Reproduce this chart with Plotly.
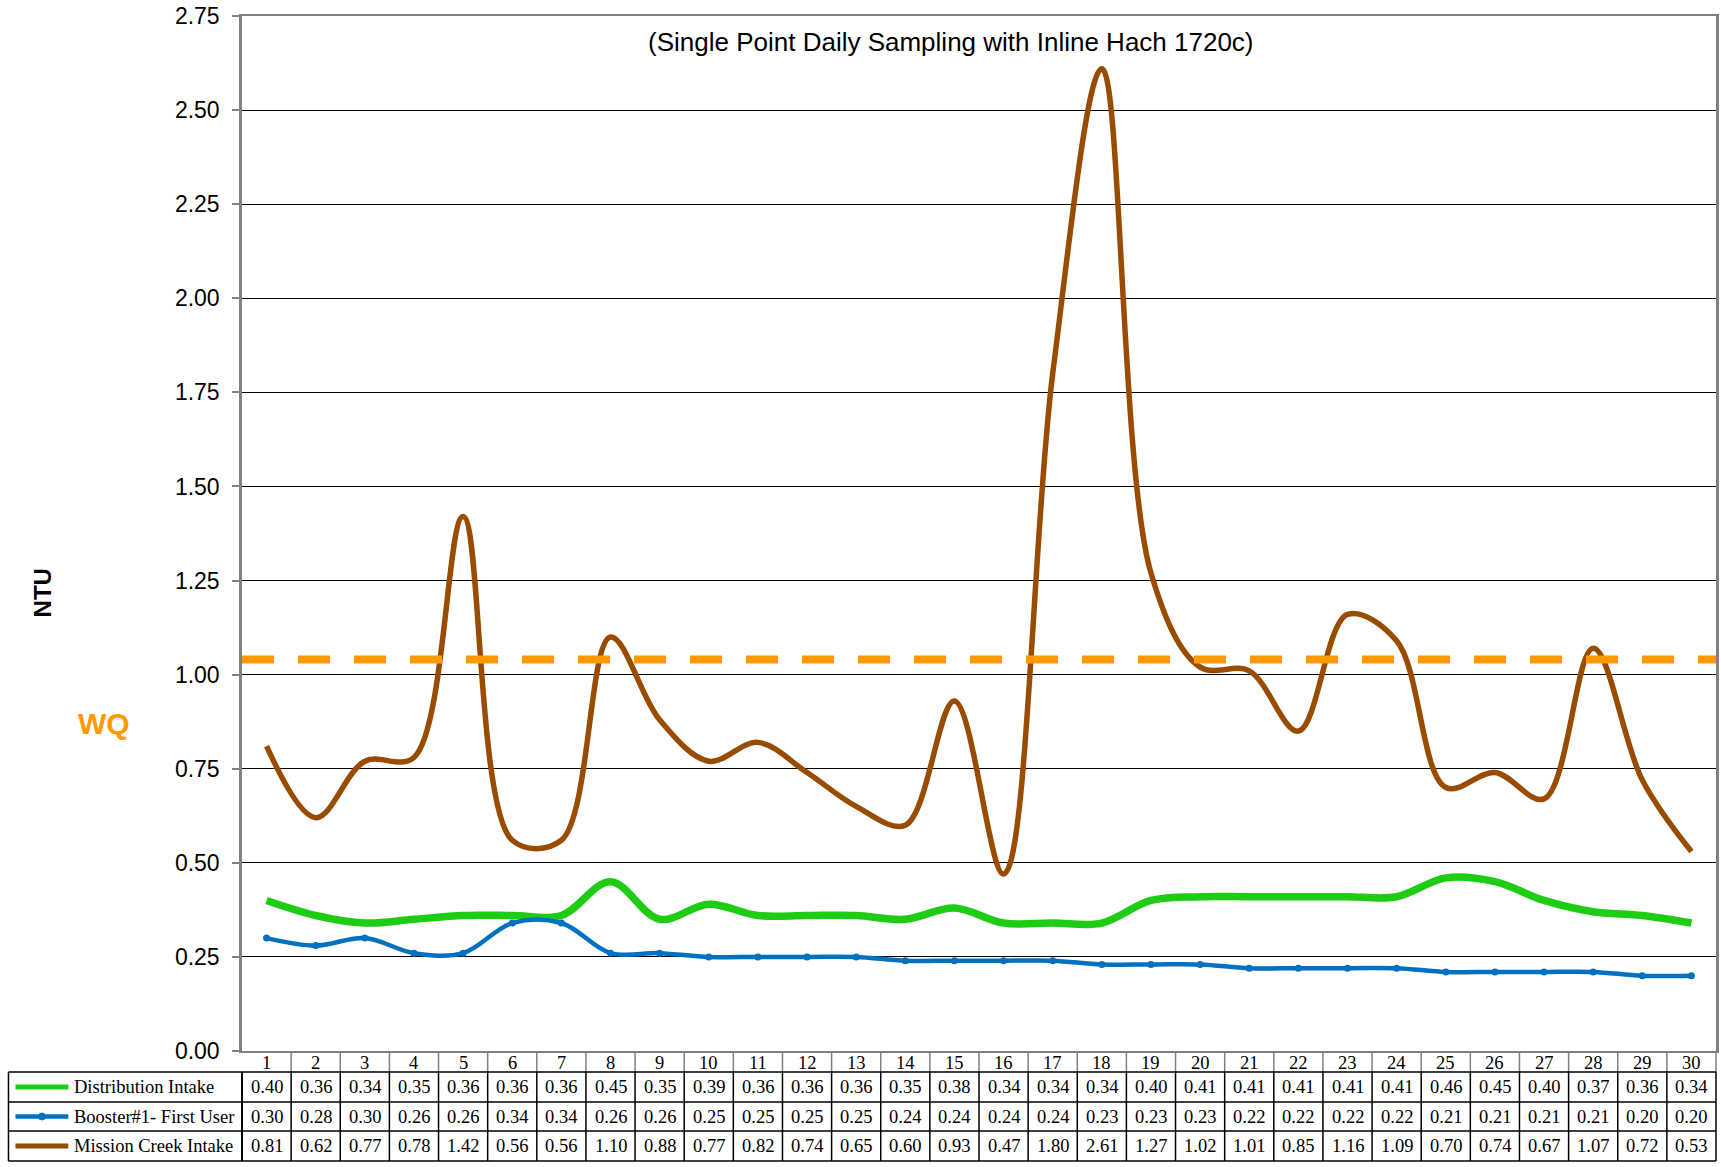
import plotly.graph_objects as go

# ---------------- data ----------------
days = list(range(1, 31))
distribution_intake = [0.40, 0.36, 0.34, 0.35, 0.36, 0.36, 0.36, 0.45, 0.35, 0.39,
                       0.36, 0.36, 0.36, 0.35, 0.38, 0.34, 0.34, 0.34, 0.40, 0.41,
                       0.41, 0.41, 0.41, 0.41, 0.46, 0.45, 0.40, 0.37, 0.36, 0.34]
booster1_first_user = [0.30, 0.28, 0.30, 0.26, 0.26, 0.34, 0.34, 0.26, 0.26, 0.25,
                       0.25, 0.25, 0.25, 0.24, 0.24, 0.24, 0.24, 0.23, 0.23, 0.23,
                       0.22, 0.22, 0.22, 0.22, 0.21, 0.21, 0.21, 0.21, 0.20, 0.20]
mission_creek_intake = [0.81, 0.62, 0.77, 0.78, 1.42, 0.56, 0.56, 1.10, 0.88, 0.77,
                        0.82, 0.74, 0.65, 0.60, 0.93, 0.47, 1.80, 2.61, 1.27, 1.02,
                        1.01, 0.85, 1.16, 1.09, 0.70, 0.74, 0.67, 1.07, 0.72, 0.53]
series_names = ["Distribution Intake", "Booster#1- First User", "Mission Creek Intake"]
wq_limit = 1.04
y_ticks = [0.00, 0.25, 0.50, 0.75, 1.00, 1.25, 1.50, 1.75, 2.00, 2.25, 2.50, 2.75]
title_text = "(Single Point Daily Sampling with Inline Hach 1720c)"

# ---------------- styles ----------------
GREEN = "#1ECC14"
BLUE = "#0070C0"
BROWN = "#994C00"
ORANGE = "#FF9900"
SANS = "Liberation Sans, Arial, sans-serif"
SERIF = "Liberation Serif, Times New Roman, serif"

W, H = 1721, 1167
L, R, T, B = 242, 1719, 16, 1051


def px(xp):
    return (xp - L) / (R - L)


def py(yp):
    return (B - yp) / (B - T)


fig = go.Figure()
series = [
    (distribution_intake, GREEN, 7.5, False),
    (booster1_first_user, BLUE, 4.5, True),
    (mission_creek_intake, BROWN, 5.5, False),
]
for (vals, col, w, mk), name in zip(series, series_names):
    fig.add_trace(go.Scatter(
        x=days, y=vals, name=name,
        mode="lines+markers" if mk else "lines",
        line=dict(color=col, width=w, shape="spline", smoothing=1),
        marker=dict(size=7, color=col),
        showlegend=False, hoverinfo="x+y",
    ))

fig.add_hline(y=wq_limit, line=dict(color=ORANGE, width=8, dash="32px,24px"))

shapes = []
annotations = []

# table rows (pixel geometry)
header_top, header_bot = 1051, 1072
row_edges = [1072, 1102, 1131, 1161]
row_centers = [(row_edges[i] + row_edges[i + 1]) / 2 for i in range(3)]

# header vertical separators (grey)
for k in range(31):
    xr, xv = ("paper", 0 if k == 0 else 1) if k in (0, 30) else ("x", k + 0.5)
    shapes.append(dict(type="line", xref=xr, yref="paper", x0=xv, x1=xv,
                       y0=py(header_top), y1=py(header_bot),
                       line=dict(color="#808080", width=1.5)))
# data row vertical separators (black)
for k in range(31):
    xr, xv = ("paper", 0 if k == 0 else 1) if k in (0, 30) else ("x", k + 0.5)
    shapes.append(dict(type="line", xref=xr, yref="paper", x0=xv, x1=xv,
                       y0=py(row_edges[0]), y1=py(row_edges[-1]),
                       line=dict(color="black", width=2 if k == 0 else 1.5)))
# legend box left edge
shapes.append(dict(type="line", xref="paper", yref="paper", x0=px(8), x1=px(8),
                   y0=py(row_edges[0]), y1=py(row_edges[-1]),
                   line=dict(color="black", width=1.5)))
# horizontal lines
for ye in row_edges:
    shapes.append(dict(type="line", xref="paper", yref="paper", x0=px(8), x1=1,
                       y0=py(ye), y1=py(ye), line=dict(color="black", width=1.5)))

# header numbers
for d in days:
    annotations.append(dict(x=d, y=py((header_top + header_bot) / 2 + 1), xref="x", yref="paper",
                            text=str(d), showarrow=False, xanchor="center", yanchor="middle",
                            font=dict(family=SERIF, size=18.5, color="black")))
# values
for (vals, col, w, mk), yc, name in zip(series, row_centers, series_names):
    for d, v in zip(days, vals):
        annotations.append(dict(x=d, y=py(yc), xref="x", yref="paper",
                                text=f"{v:.2f}", showarrow=False, xanchor="center",
                                yanchor="middle",
                                font=dict(family=SERIF, size=18.5, color="black")))
    # legend label
    annotations.append(dict(x=px(72), y=py(yc), xref="paper", yref="paper",
                            text=name, showarrow=False, xanchor="left", yanchor="middle",
                            font=dict(family=SERIF, size=18.5, color="black")))
    # legend swatch
    shapes.append(dict(type="line", xref="paper", yref="paper", x0=px(15), x1=px(68),
                       y0=py(yc), y1=py(yc), line=dict(color=col, width=5 if not mk else 4.5)))
    if mk:
        r = 3.5
        shapes.append(dict(type="circle", xref="paper", yref="paper",
                           x0=px(41.5 - r), x1=px(41.5 + r), y0=py(yc + r), y1=py(yc - r),
                           fillcolor=col, line=dict(color=col, width=1)))

# texts
annotations.append(dict(x=px(952), y=py(42), xref="paper", yref="paper", text=title_text,
                        showarrow=False, xanchor="center", yanchor="middle",
                        font=dict(family=SANS, size=26, color="black")))
annotations.append(dict(x=px(42), y=py(593), xref="paper", yref="paper", text="<b>NTU</b>",
                        showarrow=False, xanchor="center", yanchor="middle", textangle=-90,
                        font=dict(family=SANS, size=24, color="black")))
annotations.append(dict(x=px(104), y=py(723), xref="paper", yref="paper", text="<b>WQ</b>",
                        showarrow=False, xanchor="center", yanchor="middle",
                        font=dict(family=SANS, size=30, color=ORANGE)))

fig.update_layout(
    width=W, height=H,
    margin=dict(l=L, r=W - R, t=T, b=H - B, pad=0),
    plot_bgcolor="white", paper_bgcolor="white",
    shapes=shapes, annotations=annotations,
    showlegend=False,
    xaxis=dict(range=[0.5, 30.5], showticklabels=False, showgrid=False, zeroline=False,
               ticks="", showline=True, linecolor="#808080", linewidth=2, mirror=True),
    yaxis=dict(range=[0, 2.75], tickvals=y_ticks, ticktext=[f"{t:.2f}" for t in y_ticks],
               showgrid=True, gridcolor="black", gridwidth=1, zeroline=False,
               ticks="outside", ticklen=7, tickcolor="#808080", tickwidth=1.5,
               showline=True, linecolor="#808080", linewidth=2.5, mirror=True,
               ticklabelstandoff=8,
               tickfont=dict(family=SANS, size=23, color="black")),
)

fig.write_html("out.html",
               config={"displayModeBar": False},
               post_script="document.body.style.margin='0px';document.body.style.overflow='hidden';")
